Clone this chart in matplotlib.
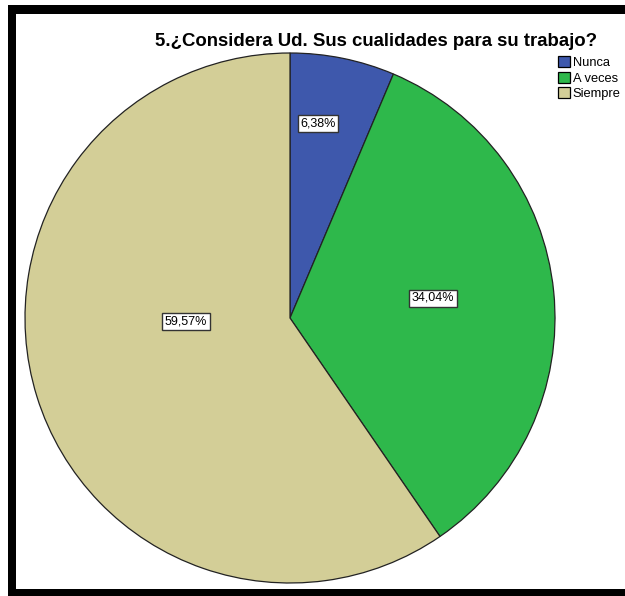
import matplotlib
matplotlib.use("Agg")
import matplotlib.pyplot as plt
from matplotlib.patches import Rectangle, Patch

# survey answers (percent)
categories = ["Nunca", "A veces", "Siempre"]
percents = [6.38, 34.04, 59.57]
labels = ["6,38%", "34,04%", "59,57%"]
colors = ["#3e58ac", "#2eb84b", "#d3ce97"]

# label placement inside the pie (pixel coords, y up)
label_pos = [(318, 473), (433, 298), (186, 275)]

plt.rcParams["font.family"] = ["Liberation Sans", "DejaVu Sans"]

W, H = 625, 596
fig = plt.figure(figsize=(W / 100, H / 100), dpi=100)
ax = fig.add_axes([0, 0, 1, 1])
ax.axis("off")

# pie, drawn clockwise from 12 o'clock
wedges, _ = ax.pie(percents, colors=colors, startangle=90, counterclock=False,
                   center=(290, 278), radius=265,
                   wedgeprops=dict(edgecolor="#222222", linewidth=0.9))
ax.set_xlim(0, W)
ax.set_ylim(0, H)
ax.set_aspect("equal")

for txt, (x, y) in zip(labels, label_pos):
    ax.text(x, y, txt, ha="center", va="center", fontsize=9,
            bbox=dict(boxstyle="square,pad=0.2", facecolor="white",
                      edgecolor="#333333", linewidth=1.0))

ax.text(376, 555, "5.¿Considera Ud. Sus cualidades para su trabajo?",
        ha="center", va="center", fontsize=13.4, fontweight="bold")

handles = [Patch(facecolor=c, edgecolor="black", linewidth=0.9) for c in colors]
ax.legend(handles, categories, loc="upper left", bbox_to_anchor=(558 / W, 1 - 56 / H),
          frameon=False, fontsize=9.3, handlelength=0.95, handleheight=0.95,
          handletextpad=0.2, labelspacing=0.2, borderpad=0, borderaxespad=0)

# heavy black frame (left, top, bottom)
ax.add_patch(Rectangle((8, 0), 8, 591, facecolor="black", clip_on=False))
ax.add_patch(Rectangle((8, 582), W - 8, 9, facecolor="black", clip_on=False))
ax.add_patch(Rectangle((8, 0), W - 8, 7, facecolor="black", clip_on=False))

fig.savefig("out.png", dpi=100)
